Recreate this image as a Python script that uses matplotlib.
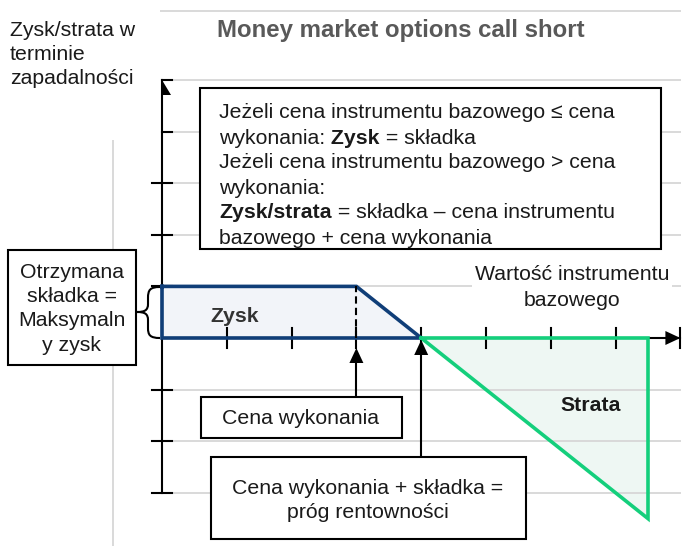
import matplotlib
matplotlib.use('Agg')
import matplotlib.pyplot as plt
from matplotlib.patches import Rectangle, Polygon, PathPatch
from matplotlib.path import Path
from matplotlib.transforms import Affine2D

# ---------------------------------------------------------------------------
# Dane (jednostki umowne: oś X = cena instrumentu, oś Y = zysk/strata)
# ---------------------------------------------------------------------------
strike = 3            # cena wykonania
breakeven = 4         # próg rentowności
x_ticks = [1, 2, 3, 4, 5, 6, 7]
y_ticks = [-3, -2, -1, 1, 2, 3, 4, 5]
profit_x = [0, 3, 4, 0]
profit_y = [1, 1, 0, 0]
loss_x = [4, 7.5, 7.5]
loss_y = [0, 0, -3.5]
x_axis_end = 8
y_axis_min, y_axis_max = -3, 5

W, H = 691, 546
X0, Y0 = 162, 338       # początek układu w pikselach
SX, SY = 64.8, 51.6     # pikseli na jednostkę

plt.rcParams['font.family'] = ['Liberation Sans', 'DejaVu Sans']

fig = plt.figure(figsize=(W / 100, H / 100), dpi=100)
ax = fig.add_axes([0, 0, 1, 1])
ax.set_xlim(-X0 / SX, (W - X0) / SX)
ax.set_ylim((Y0 - H) / SY, Y0 / SY)
ax.axis('off')

# transformacja w pikselach (od lewego górnego rogu) dla opisów
pix = Affine2D().scale(1, -1).translate(0, H)

BLUE = '#103E78'
GREEN = '#14CF7C'
GRID = '#D9D9D9'
TXT = '#1A1A1A'
FS = 15.3

# --- siatka i ramka obszaru wykresu
for yv in y_ticks:
    ax.plot([0, x_axis_end], [yv, yv], color=GRID, lw=1.4, zorder=2)
ax.plot([161, 680], [11, 11], color=GRID, lw=1.4, transform=pix, zorder=1)
ax.plot([113, 113], [141, H], color=GRID, lw=1.4, transform=pix, zorder=1)

# --- obszary zysku i straty
ax.add_patch(Polygon(list(zip(profit_x, profit_y)), closed=True,
                     facecolor='#F2F4F9', edgecolor='none', zorder=1))
ax.add_patch(Polygon(list(zip(loss_x, loss_y)), closed=True,
                     facecolor='#EEF7F3', edgecolor='none', zorder=1))

# --- osie
ax.plot([0, 0], [y_axis_min, y_axis_max], color='black', lw=1.5, zorder=4)
ax.plot([0, x_axis_end], [0, 0], color='black', lw=1.5, zorder=4)
tx, ty = 10 / SX, 10 / SY
for yv in y_ticks:
    left = 0 if yv >= 4 else -tx
    ax.plot([left, tx], [yv, yv], color='black', lw=1.5, zorder=4)
for xv in x_ticks:
    ax.plot([xv, xv], [-ty, ty], color='black', lw=1.5, zorder=4)
# groty osi
ax.add_patch(Polygon([(0, y_axis_max), (9 / SX, y_axis_max - 15 / SY),
                      (0, y_axis_max - 15 / SY)], closed=True,
                     facecolor='black', edgecolor='none', zorder=5))
ax.add_patch(Polygon([(x_axis_end, 0), (x_axis_end - 15 / SX, 7 / SY),
                      (x_axis_end - 15 / SX, -7 / SY)], closed=True,
                     facecolor='black', edgecolor='none', zorder=5))
ax.plot([x_axis_end, x_axis_end], [-ty, ty], color='black', lw=1.5, zorder=5)

# --- linie wypłaty
ax.plot(profit_x + [profit_x[0]], profit_y + [profit_y[0]], color=BLUE,
        lw=2.6, solid_joinstyle='miter', zorder=6)
ax.plot([strike, strike], [0, profit_y[0]], color='black', lw=1.5,
        linestyle=(0, (3.5, 2)), zorder=6)
ax.plot(loss_x + [loss_x[0]], loss_y + [loss_y[0]], color=GREEN, lw=2.6,
        solid_joinstyle='miter', zorder=6)

ax.text(1.12, 0.42, 'Zysk', fontsize=FS, weight='bold',
        color='#333333', ha='center', va='center', zorder=7)
ax.text(6.62, -1.31, 'Strata', fontsize=FS, weight='bold',
        color=TXT, ha='center', va='center', zorder=7)

# --- strzałki do ceny wykonania i progu rentowności
def up_arrow(x, y_tip, y_base):
    hl, hw = 15 / SY, 7 / SX
    ax.plot([x, x], [y_base, y_tip - hl], color='black', lw=1.5, zorder=6)
    ax.add_patch(Polygon([(x, y_tip), (x - hw, y_tip - hl), (x + hw, y_tip - hl)],
                         closed=True, facecolor='black', edgecolor='none', zorder=6))

up_arrow(strike, -10 / SY, -59 / SY)
up_arrow(breakeven, -2 / SY, -119 / SY)

# --- tytuł i opis osi Y
ax.text(401, 31, 'Money market options call short', transform=pix,
        fontsize=17.3, weight='bold', color='#595959', ha='center', va='center')
for i, s in enumerate(['Zysk/strata w', 'terminie', 'zapadalności']):
    ax.text(10, 31 + i * 24, s, transform=pix, fontsize=FS, color=TXT,
            ha='left', va='center')

# --- opis osi X
ax.add_patch(Rectangle((472, 258), 200, 56, transform=pix, facecolor='white',
                       edgecolor='none', zorder=3))
ax.text(572, 275, 'Wartość instrumentu', transform=pix, fontsize=FS,
        color=TXT, ha='center', va='center', zorder=7)
ax.text(572, 300, 'bazowego', transform=pix, fontsize=FS,
        color=TXT, ha='center', va='center', zorder=7)

# --- ramka z warunkami
box = Rectangle((200, 88), 461, 161, transform=pix, facecolor='white',
                edgecolor='black', lw=1.5, zorder=8)
ax.add_patch(box)
LX = 219
def line(y, parts):
    prev = None
    for s, bold in parts:
        w = 'bold' if bold else 'normal'
        if prev is None:
            t = ax.text(LX, y, s, transform=pix, fontsize=FS, weight=w,
                        color=TXT, ha='left', va='center', zorder=9)
        else:
            t = ax.annotate(s, xy=(1, 0), xycoords=prev, fontsize=FS,
                            weight=w, color=TXT, ha='left', va='bottom',
                            zorder=9)
        t.set_clip_path(box)
        prev = t

line(113, [('Jeżeli cena instrumentu bazowego ≤ cena', False)])
line(138, [('wykonania:', False), (' Zysk', True), (' = składka', False)])
line(163, [('Jeżeli cena instrumentu bazowego > cena', False)])
line(188, [('wykonania:', False)])
line(212, [('Zysk/strata', True), (' = składka – cena instrumentu', False)])
line(239, [('bazowego + cena wykonania', False)])

# --- ramka "Otrzymana składka"
ax.add_patch(Rectangle((8, 250), 128, 115, transform=pix, facecolor='white',
                       edgecolor='black', lw=1.5, zorder=8))
for i, s in enumerate(['Otrzymana', 'składka =', 'Maksymaln', 'y zysk']):
    ax.text(72, 272 + i * 24.5, s, transform=pix, fontsize=FS, color=TXT,
            ha='center', va='center', zorder=9)

# nawias klamrowy
brace = Path([(160, 287), (150, 287), (148, 290), (148, 298),
              (148, 304),
              (148, 310), (145, 312), (137, 312),
              (145, 312), (148, 314), (148, 320),
              (148, 328),
              (148, 335), (150, 338), (160, 338)],
             [Path.MOVETO, Path.CURVE4, Path.CURVE4, Path.CURVE4,
              Path.LINETO,
              Path.CURVE4, Path.CURVE4, Path.CURVE4,
              Path.CURVE4, Path.CURVE4, Path.CURVE4,
              Path.LINETO,
              Path.CURVE4, Path.CURVE4, Path.CURVE4])
ax.add_patch(PathPatch(brace, transform=pix, facecolor='none',
                       edgecolor='black', lw=1.5, zorder=8))

# --- ramki pod osią
ax.add_patch(Rectangle((201, 397), 201, 41, transform=pix, facecolor='white',
                       edgecolor='black', lw=1.5, zorder=8))
ax.text(301, 418, 'Cena wykonania', transform=pix, fontsize=FS, color=TXT,
        ha='center', va='center', zorder=9)

ax.add_patch(Rectangle((211, 457), 315, 82, transform=pix, facecolor='white',
                       edgecolor='black', lw=1.5, zorder=8))
ax.text(368, 488, 'Cena wykonania + składka =', transform=pix, fontsize=FS,
        color=TXT, ha='center', va='center', zorder=9)
ax.text(368, 512, 'próg rentowności', transform=pix, fontsize=FS,
        color=TXT, ha='center', va='center', zorder=9)

fig.savefig('out.png', dpi=100)
